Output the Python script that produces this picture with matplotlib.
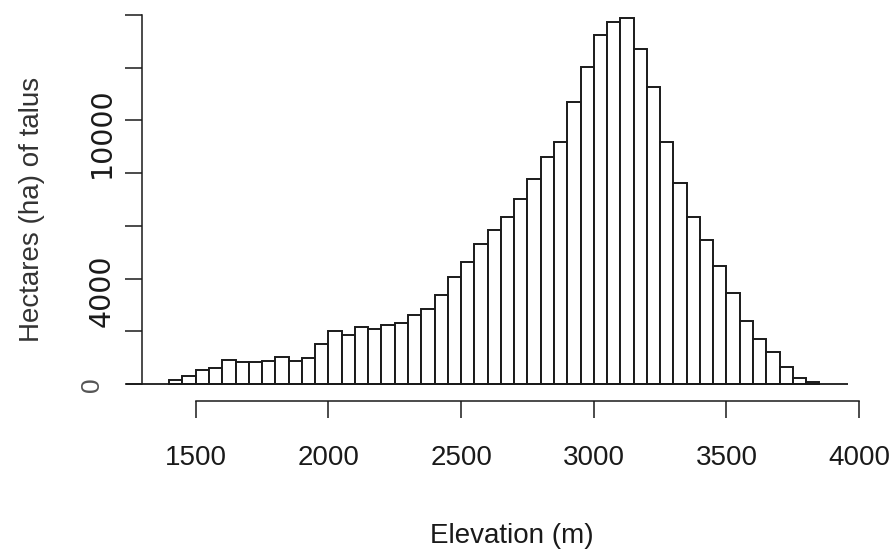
import numpy as np
import matplotlib

matplotlib.use("Agg")
import matplotlib.pyplot as plt
from matplotlib.transforms import ScaledTranslation, blended_transform_factory

# Talus area per 50 m elevation band
bin_width = 50
bin_starts = np.arange(1400, 3850, bin_width)
hectares = [
    150, 300, 530, 600, 910, 820, 820, 885, 1040, 885, 975, 1500,
    2025, 1860, 2150, 2090, 2240, 2300, 2620, 2835, 3380, 4050,
    4620, 5300, 5850, 6350, 7025, 7785, 8610, 9180, 10680, 12025,
    13250, 13730, 13885, 12710, 11265, 9180, 7620, 6350, 5470, 4480,
    3440, 2390, 1710, 1200, 660, 215, 90,
]
x_ticks = [1500, 2000, 2500, 3000, 3500, 4000]
y_ticks = [0, 2000, 4000, 6000, 8000, 10000, 12000, 14000]
y_labels = [0, 4000, 10000]

W, H, DPI = 891, 553, 100
fig = plt.figure(figsize=(W / DPI, H / DPI), dpi=DPI)
# axes box in pixels: left 142, right 870, top 10, bottom 430
ax = fig.add_axes([142 / W, 1 - 430 / H, 728 / W, 420 / H])
ax.set_xlim(1297.7, 4040.7)
ax.set_ylim(-1745, 14188)

ink = "#1a1a1a"
sans = "Liberation Sans"

ax.bar(bin_starts, hectares, width=bin_width, align="edge",
       facecolor="white", edgecolor=ink, linewidth=1.4)
ax.hlines(0, 1236, 3957, color=ink, linewidth=1.3, clip_on=False)

for side in ("top", "right"):
    ax.spines[side].set_visible(False)
ax.spines["left"].set_bounds(0, 14000)
ax.spines["bottom"].set_position(("data", -634))
ax.spines["bottom"].set_bounds(1500, 4000)
for side in ("left", "bottom"):
    ax.spines[side].set_linewidth(1.1)
    ax.spines[side].set_color(ink)

ax.set_xticks(x_ticks)
ax.set_xticklabels([str(v) for v in x_ticks], fontfamily=sans, fontsize=20,
                   color=ink)
ax.set_yticks(y_ticks)
ax.set_yticklabels([])
ax.tick_params(axis="both", direction="out", length=12.2, width=1.1, color=ink)
ax.tick_params(axis="x", pad=20)

# y tick labels, only at some ticks
ytrans = blended_transform_factory(ax.transAxes, ax.transData)
for v in y_labels:
    if v == 0:
        off = ScaledTranslation(-50 / DPI, -1 / DPI, fig.dpi_scale_trans)
        ax.text(0, v, str(v), rotation=90, ha="center", va="center",
                fontfamily=sans, fontsize=19, color="#555555",
                transform=ytrans + off)
    else:
        off = ScaledTranslation(-40 / DPI, -12 / DPI, fig.dpi_scale_trans)
        ax.text(0, v, str(v), rotation=90, ha="center", va="center",
                fontfamily="DejaVu Sans", fontsize=20.5, color=ink,
                transform=ytrans + off)

ax.set_xlabel("Elevation (m)", fontfamily=sans, fontsize=20, color=ink,
              va="baseline")
ax.xaxis.set_label_coords((512 - 142) / 728, (430 - 543) / 420)
ax.set_ylabel("Hectares (ha) of talus", fontfamily=sans,
              fontsize=20, color="#333333", ha="center", va="center")
ax.yaxis.set_label_coords((32 - 142) / 728, (430 - 209) / 420)

fig.savefig("out.png", dpi=DPI)
